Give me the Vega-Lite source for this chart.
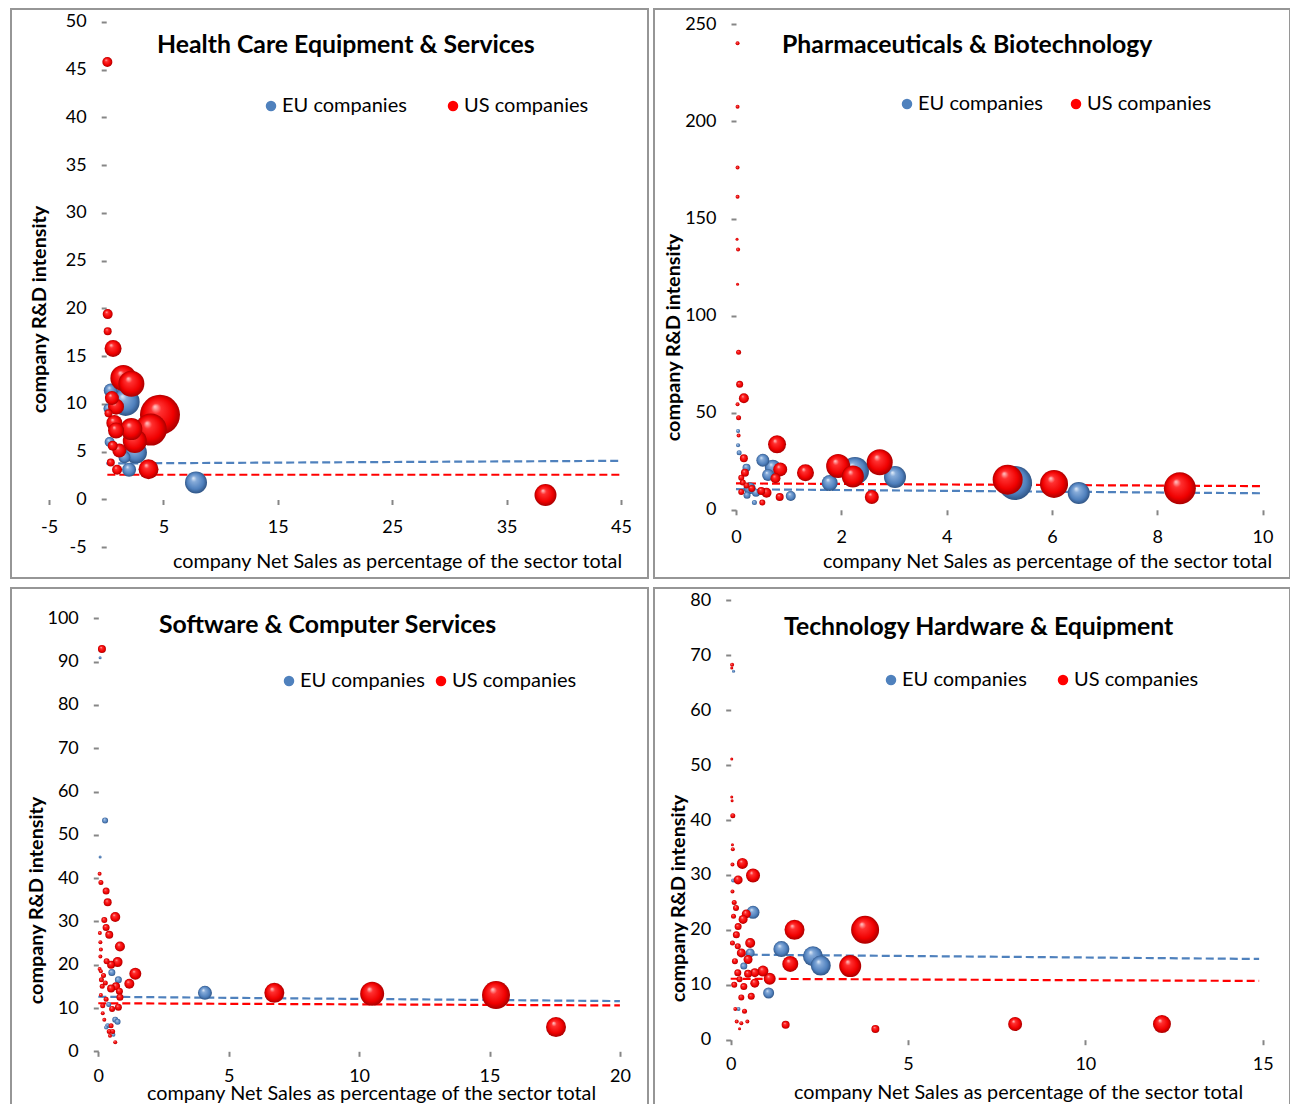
{
  "$schema": "https://vega.github.io/schema/vega-lite/v6.json",
  "padding": {"left": 10, "top": 8, "right": 3, "bottom": 0},
  "background": "white",
  "datasets": {
    "hc": [
      {"g":"EU","x":1.7,"y":10.2,"rd":784},{"g":"EU","x":2.6,"y":4.9,"rd":484},{"g":"EU","x":7.85,"y":1.76,"rd":484},{"g":"EU","x":0.4,"y":11.4,"rd":196},{"g":"EU","x":2.0,"y":3.1,"rd":196},{"g":"EU","x":1.6,"y":4.4,"rd":144},{"g":"EU","x":0.2,"y":9.5,"rd":100},{"g":"EU","x":0.3,"y":6.0,"rd":100},
      {"g":"US","x":4.7,"y":8.85,"rd":1600},{"g":"US","x":3.9,"y":7.3,"rd":1024},{"g":"US","x":1.5,"y":12.7,"rd":676},{"g":"US","x":2.2,"y":12.1,"rd":676},{"g":"US","x":2.5,"y":6.1,"rd":576},{"g":"US","x":2.2,"y":7.35,"rd":484},{"g":"US","x":38.4,"y":0.45,"rd":484},{"g":"US","x":3.7,"y":3.15,"rd":400},{"g":"US","x":0.6,"y":15.8,"rd":289},{"g":"US","x":0.86,"y":9.7,"rd":256},{"g":"US","x":0.71,"y":8.0,"rd":256},{"g":"US","x":0.86,"y":7.2,"rd":256},{"g":"US","x":0.5,"y":10.6,"rd":196},{"g":"US","x":1.15,"y":5.1,"rd":196},{"g":"US","x":0.1,"y":45.8,"rd":100},{"g":"US","x":0.13,"y":19.4,"rd":100},{"g":"US","x":0.57,"y":5.6,"rd":100},{"g":"US","x":0.95,"y":3.1,"rd":100},{"g":"US","x":0.13,"y":17.6,"rd":64},{"g":"US","x":0.4,"y":3.85,"rd":64},{"g":"US","x":0.2,"y":9.0,"rd":64}
    ],
    "hc_t": [
      {"g":"EU","x":0,"y":3.75},{"g":"EU","x":45,"y":4.03},
      {"g":"US","x":0.1,"y":2.57},{"g":"US","x":45,"y":2.57}
    ],
    "ph": [
      {"g":"EU","x":5.3,"y":13.8,"rd":1156},{"g":"EU","x":2.26,"y":20.0,"rd":784},{"g":"EU","x":3.02,"y":16.9,"rd":484},{"g":"EU","x":6.51,"y":8.6,"rd":484},{"g":"EU","x":0.70,"y":21.7,"rd":256},{"g":"EU","x":1.78,"y":13.8,"rd":256},{"g":"EU","x":0.51,"y":25.5,"rd":169},{"g":"EU","x":0.61,"y":17.9,"rd":144},{"g":"EU","x":0.26,"y":11.1,"rd":144},{"g":"EU","x":1.04,"y":7.1,"rd":100},{"g":"EU","x":0.2,"y":21.7,"rd":64},{"g":"EU","x":0.38,"y":8.8,"rd":64},{"g":"EU","x":0.21,"y":7.5,"rd":49},{"g":"EU","x":0.06,"y":29.4,"rd":25},{"g":"EU","x":0.35,"y":3.7,"rd":25},{"g":"EU","x":0.04,"y":40.6,"rd":16},{"g":"EU","x":0.04,"y":33.2,"rd":16},
      {"g":"US","x":8.43,"y":11.1,"rd":1024},{"g":"US","x":5.16,"y":15.5,"rd":900},{"g":"US","x":6.04,"y":13.3,"rd":784},{"g":"US","x":2.73,"y":24.5,"rd":676},{"g":"US","x":1.94,"y":22.6,"rd":576},{"g":"US","x":2.22,"y":17.2,"rd":484},{"g":"US","x":0.78,"y":33.7,"rd":324},{"g":"US","x":1.32,"y":19.1,"rd":289},{"g":"US","x":0.84,"y":20.8,"rd":196},{"g":"US","x":2.58,"y":6.6,"rd":196},{"g":"US","x":0.15,"y":57.4,"rd":100},{"g":"US","x":0.75,"y":16.2,"rd":100},{"g":"US","x":0.58,"y":8.8,"rd":100},{"g":"US","x":0.15,"y":26.5,"rd":64},{"g":"US","x":0.17,"y":19.1,"rd":64},{"g":"US","x":0.48,"y":9.7,"rd":64},{"g":"US","x":0.83,"y":6.6,"rd":64},{"g":"US","x":0.07,"y":64.6,"rd":49},{"g":"US","x":0.3,"y":11.0,"rd":49},{"g":"US","x":0.1,"y":16.5,"rd":36},{"g":"US","x":0.13,"y":14.0,"rd":36},{"g":"US","x":0.1,"y":9.2,"rd":36},{"g":"US","x":0.5,"y":3.7,"rd":36},{"g":"US","x":0.2,"y":12.5,"rd":36},{"g":"US","x":0.05,"y":81.1,"rd":25},{"g":"US","x":0.05,"y":47.4,"rd":25},{"g":"US","x":0.03,"y":240.2,"rd":16},{"g":"US","x":0.03,"y":207.6,"rd":16},{"g":"US","x":0.03,"y":176.2,"rd":16},{"g":"US","x":0.03,"y":161.2,"rd":16},{"g":"US","x":0.04,"y":134.0,"rd":16},{"g":"US","x":0.03,"y":54.3,"rd":16},{"g":"US","x":0.05,"y":38.2,"rd":16},{"g":"US","x":0.02,"y":139.3,"rd":9},{"g":"US","x":0.03,"y":116.1,"rd":9}
    ],
    "ph_t": [
      {"g":"EU","x":0,"y":10.6},{"g":"EU","x":10,"y":8.5},
      {"g":"US","x":0,"y":13.6},{"g":"US","x":10,"y":12.2}
    ],
    "sw": [
      {"g":"EU","x":4.09,"y":13.5,"rd":196},{"g":"EU","x":0.52,"y":18.2,"rd":49},{"g":"EU","x":0.77,"y":16.5,"rd":49},{"g":"EU","x":0.26,"y":53.3,"rd":36},{"g":"EU","x":0.65,"y":7.3,"rd":36},{"g":"EU","x":0.74,"y":6.8,"rd":36},{"g":"EU","x":0.4,"y":10.8,"rd":25},{"g":"EU","x":0.36,"y":5.9,"rd":25},{"g":"EU","x":0.3,"y":5.5,"rd":16},{"g":"EU","x":0.58,"y":3.8,"rd":16},{"g":"EU","x":0.07,"y":90.9,"rd":9},{"g":"EU","x":0.07,"y":44.9,"rd":9},
      {"g":"US","x":15.25,"y":13.0,"rd":784},{"g":"US","x":10.5,"y":13.3,"rd":576},{"g":"US","x":6.75,"y":13.5,"rd":400},{"g":"US","x":17.55,"y":5.6,"rd":400},{"g":"US","x":1.42,"y":17.9,"rd":144},{"g":"US","x":0.65,"y":31.0,"rd":100},{"g":"US","x":0.83,"y":24.2,"rd":100},{"g":"US","x":0.74,"y":20.6,"rd":100},{"g":"US","x":1.19,"y":15.6,"rd":100},{"g":"US","x":0.14,"y":92.9,"rd":64},{"g":"US","x":0.36,"y":34.4,"rd":64},{"g":"US","x":0.42,"y":26.9,"rd":64},{"g":"US","x":0.49,"y":20.0,"rd":64},{"g":"US","x":0.68,"y":15.0,"rd":64},{"g":"US","x":0.49,"y":14.5,"rd":64},{"g":"US","x":0.3,"y":37.0,"rd":49},{"g":"US","x":0.3,"y":28.6,"rd":49},{"g":"US","x":0.81,"y":13.9,"rd":49},{"g":"US","x":0.83,"y":12.5,"rd":49},{"g":"US","x":0.77,"y":10.2,"rd":49},{"g":"US","x":0.23,"y":30.3,"rd":36},{"g":"US","x":0.32,"y":20.8,"rd":36},{"g":"US","x":0.53,"y":9.8,"rd":36},{"g":"US","x":0.1,"y":39.0,"rd":25},{"g":"US","x":0.2,"y":17.5,"rd":25},{"g":"US","x":0.12,"y":16.5,"rd":25},{"g":"US","x":0.27,"y":15.8,"rd":25},{"g":"US","x":0.15,"y":15.0,"rd":25},{"g":"US","x":0.17,"y":10.5,"rd":25},{"g":"US","x":0.49,"y":5.9,"rd":25},{"g":"US","x":0.42,"y":4.6,"rd":25},{"g":"US","x":0.55,"y":4.6,"rd":25},{"g":"US","x":0.3,"y":12.0,"rd":25},{"g":"US","x":0.05,"y":41.0,"rd":16},{"g":"US","x":0.06,"y":27.3,"rd":16},{"g":"US","x":0.08,"y":25.2,"rd":16},{"g":"US","x":0.1,"y":23.5,"rd":16},{"g":"US","x":0.08,"y":21.9,"rd":16},{"g":"US","x":0.17,"y":8.8,"rd":16},{"g":"US","x":0.23,"y":7.3,"rd":16},{"g":"US","x":0.45,"y":3.6,"rd":16},{"g":"US","x":0.65,"y":2.1,"rd":16},{"g":"US","x":0.05,"y":19.0,"rd":16},{"g":"US","x":0.1,"y":18.5,"rd":16},{"g":"US","x":0.1,"y":13.0,"rd":16}
    ],
    "sw_t": [
      {"g":"EU","x":0,"y":12.6},{"g":"EU","x":20,"y":11.6},
      {"g":"US","x":0,"y":11.1},{"g":"US","x":20,"y":10.6}
    ],
    "th": [
      {"g":"EU","x":2.32,"y":15.2,"rd":400},{"g":"EU","x":2.54,"y":13.5,"rd":400},{"g":"EU","x":1.43,"y":16.5,"rd":256},{"g":"EU","x":0.63,"y":23.2,"rd":169},{"g":"EU","x":1.07,"y":8.5,"rd":121},{"g":"EU","x":0.55,"y":15.8,"rd":81},{"g":"EU","x":0.37,"y":13.4,"rd":49},{"g":"EU","x":0.07,"y":29.0,"rd":16},{"g":"EU","x":0.22,"y":5.6,"rd":16},{"g":"EU","x":0.08,"y":67.1,"rd":9},
      {"g":"US","x":3.79,"y":20.0,"rd":784},{"g":"US","x":3.37,"y":13.4,"rd":484},{"g":"US","x":1.8,"y":20.0,"rd":400},{"g":"US","x":12.16,"y":2.85,"rd":324},{"g":"US","x":1.68,"y":13.8,"rd":256},{"g":"US","x":0.63,"y":29.9,"rd":196},{"g":"US","x":8.02,"y":2.85,"rd":196},{"g":"US","x":1.1,"y":11.1,"rd":144},{"g":"US","x":0.33,"y":32.1,"rd":121},{"g":"US","x":0.91,"y":12.5,"rd":121},{"g":"US","x":0.55,"y":17.6,"rd":100},{"g":"US","x":0.21,"y":29.1,"rd":81},{"g":"US","x":0.44,"y":22.9,"rd":81},{"g":"US","x":0.35,"y":21.9,"rd":81},{"g":"US","x":0.3,"y":15.8,"rd":81},{"g":"US","x":0.49,"y":14.6,"rd":81},{"g":"US","x":0.68,"y":12.2,"rd":81},{"g":"US","x":0.68,"y":10.3,"rd":81},{"g":"US","x":0.49,"y":12.0,"rd":64},{"g":"US","x":1.55,"y":2.7,"rd":64},{"g":"US","x":4.08,"y":1.95,"rd":64},{"g":"US","x":0.21,"y":20.6,"rd":49},{"g":"US","x":0.16,"y":19.1,"rd":49},{"g":"US","x":0.2,"y":12.2,"rd":49},{"g":"US","x":0.37,"y":9.7,"rd":49},{"g":"US","x":0.58,"y":7.9,"rd":49},{"g":"US","x":0.3,"y":7.7,"rd":36},{"g":"US","x":0.12,"y":14.3,"rd":36},{"g":"US","x":0.15,"y":24.0,"rd":36},{"g":"US","x":0.2,"y":17.0,"rd":36},{"g":"US","x":0.1,"y":10.0,"rd":36},{"g":"US","x":0.25,"y":11.0,"rd":36},{"g":"US","x":0.06,"y":40.8,"rd":25},{"g":"US","x":0.08,"y":22.5,"rd":25},{"g":"US","x":0.05,"y":17.6,"rd":25},{"g":"US","x":0.39,"y":5.2,"rd":25},{"g":"US","x":0.1,"y":25.0,"rd":25},{"g":"US","x":0.04,"y":68.3,"rd":16},{"g":"US","x":0.06,"y":34.7,"rd":16},{"g":"US","x":0.05,"y":31.9,"rd":16},{"g":"US","x":0.05,"y":27.0,"rd":16},{"g":"US","x":0.13,"y":5.6,"rd":16},{"g":"US","x":0.17,"y":3.3,"rd":16},{"g":"US","x":0.3,"y":3.0,"rd":16},{"g":"US","x":0.47,"y":3.3,"rd":16},{"g":"US","x":0.03,"y":67.7,"rd":9},{"g":"US","x":0.03,"y":51.1,"rd":9},{"g":"US","x":0.03,"y":44.2,"rd":9},{"g":"US","x":0.04,"y":43.5,"rd":9},{"g":"US","x":0.05,"y":35.5,"rd":9},{"g":"US","x":0.25,"y":2.0,"rd":9}
    ],
    "th_t": [
      {"g":"EU","x":0.2,"y":15.5},{"g":"EU","x":14.9,"y":14.7},
      {"g":"US","x":0,"y":11.1},{"g":"US","x":14.9,"y":10.7}
    ]
  },
  "spacing": 8,
  "resolve": {"scale": {"x":"independent","y":"independent","size":"independent","fill":"independent"}, "axis": {"x":"independent","y":"independent"}, "legend": {"fill":"independent"}},
  "vconcat": [
    {
      "spacing": 4,
      "resolve": {"scale": {"x":"independent","y":"independent","size":"independent","fill":"independent"}, "axis": {"x":"independent","y":"independent"}, "legend": {"fill":"independent"}},
      "hconcat": [
        {
          "width": 637, "height": 569,
          "title": {"text": "Health Care Equipment & Services", "dx": 146, "offset": -49},
          "encoding": {
            "x": {"field": "x", "type": "quantitative", "scale": {"domain": [-8.322, 47.36], "nice": false, "zero": false},
              "axis": {"values": [-5,5,15,25,35,45], "offset": -78.5, "labelPadding": 14, "title": "company Net Sales as percentage of the sector total", "titleX": 386, "titleY": 61.5}},
            "y": {"field": "y", "type": "quantitative", "scale": {"domain": [-8.246, 51.361], "nice": false, "zero": false},
              "axis": {"values": [-5,0,5,10,15,20,25,30,35,40,45,50], "offset": -95.2, "title": "company R&D intensity", "titleX": -67, "titleY": 300}}
          },
          "layer": [
            {"data": {"values": [{}]}, "mark": {"type": "rule", "color": "#868686", "strokeWidth": 2}, "encoding": {"x": {"datum": -5}, "x2": {"datum": 45}, "y": {"datum": 0}}},
            {"data": {"values": [{}]}, "mark": {"type": "rule", "color": "#868686", "strokeWidth": 2}, "encoding": {"x": {"datum": 0}, "y": {"datum": -5}, "y2": {"datum": 50}}},
            {"data": {"name": "hc_t"}, "transform": [{"filter": "datum.g === 'EU'"}], "mark": {"type": "line", "color": "#4F81BD", "strokeDash": [8,4], "strokeWidth": 2.2}, "encoding": {}},
            {"data": {"name": "hc_t"}, "transform": [{"filter": "datum.g === 'US'"}], "mark": {"type": "line", "color": "#FF0000", "strokeDash": [8,4], "strokeWidth": 2.2}, "encoding": {}},
            {"data": {"name": "hc"}, "mark": {"type": "circle", "opacity": 0},
              "encoding": {"fill": {"field": "g", "type": "nominal", "scale": {"domain": ["EU","US"], "range": ["#4F81BD","#FF0000"]},
                "legend": {"title": null, "orient": "none", "legendX": 250, "legendY": 87, "direction": "horizontal", "symbolType": "circle", "symbolSize": 110, "symbolOpacity": 1, "symbolStrokeWidth": 0, "labelFontSize": 20, "labelOffset": 1, "columnPadding": 36, "padding": 0, "labelExpr": "datum.label + ' companies'"}}}},
            {"data": {"name": "hc"}, "transform": [{"filter": "datum.g === 'EU'"}],
              "mark": {"type": "circle", "opacity": 1, "fill": {"gradient": "radial", "x1": 0.38, "y1": 0.3, "r1": 0.02, "x2": 0.5, "y2": 0.5, "r2": 0.52, "stops": [{"offset": 0, "color": "#d9e6f6"}, {"offset": 0.22, "color": "#86abd9"}, {"offset": 0.7, "color": "#4f80bd"}, {"offset": 1, "color": "#2c4f7e"}]}},
              "encoding": {"size": {"field": "rd", "type": "quantitative", "scale": {"domain": [0,1600], "range": [0,1600]}, "legend": null}, "order": {"field": "rd", "sort": "descending"}}},
            {"data": {"name": "hc"}, "transform": [{"filter": "datum.g === 'US'"}],
              "mark": {"type": "circle", "opacity": 1, "fill": {"gradient": "radial", "x1": 0.38, "y1": 0.3, "r1": 0.02, "x2": 0.5, "y2": 0.5, "r2": 0.52, "stops": [{"offset": 0, "color": "#ffb8b8"}, {"offset": 0.22, "color": "#ff3030"}, {"offset": 0.7, "color": "#f00000"}, {"offset": 1, "color": "#a00000"}]}},
              "encoding": {"size": {"field": "rd", "type": "quantitative", "scale": {"domain": [0,1600], "range": [0,1600]}, "legend": null}, "order": {"field": "rd", "sort": "descending"}}}
          ]
        },
        {
          "width": 636, "height": 569,
          "title": {"text": "Pharmaceuticals & Biotechnology", "dx": 128, "offset": -49},
          "encoding": {
            "x": {"field": "x", "type": "quantitative", "scale": {"domain": [-1.557, 10.522], "nice": false, "zero": false},
              "axis": {"values": [0,2,4,6,8,10], "offset": -68.2, "labelPadding": 14, "title": "company Net Sales as percentage of the sector total", "titleX": 393, "titleY": 51.2}},
            "y": {"field": "y", "type": "quantitative", "scale": {"domain": [-35.12, 257.88], "nice": false, "zero": false},
              "axis": {"values": [0,50,100,150,200,250], "offset": -82, "title": "company R&D intensity", "titleX": -63, "titleY": 328}}
          },
          "layer": [
            {"data": {"values": [{}]}, "mark": {"type": "rule", "color": "#868686", "strokeWidth": 2}, "encoding": {"x": {"datum": 0}, "x2": {"datum": 10}, "y": {"datum": 0}}},
            {"data": {"values": [{}]}, "mark": {"type": "rule", "color": "#868686", "strokeWidth": 2}, "encoding": {"x": {"datum": 0}, "y": {"datum": 0}, "y2": {"datum": 250}}},
            {"data": {"name": "ph_t"}, "transform": [{"filter": "datum.g === 'EU'"}], "mark": {"type": "line", "color": "#4F81BD", "strokeDash": [8,4], "strokeWidth": 2.2}, "encoding": {}},
            {"data": {"name": "ph_t"}, "transform": [{"filter": "datum.g === 'US'"}], "mark": {"type": "line", "color": "#FF0000", "strokeDash": [8,4], "strokeWidth": 2.2}, "encoding": {}},
            {"data": {"name": "ph"}, "mark": {"type": "circle", "opacity": 0},
              "encoding": {"fill": {"field": "g", "type": "nominal", "scale": {"domain": ["EU","US"], "range": ["#4F81BD","#FF0000"]},
                "legend": {"title": null, "orient": "none", "legendX": 243, "legendY": 85, "direction": "horizontal", "symbolType": "circle", "symbolSize": 110, "symbolOpacity": 1, "symbolStrokeWidth": 0, "labelFontSize": 20, "labelOffset": 1, "columnPadding": 23, "padding": 0, "labelExpr": "datum.label + ' companies'"}}}},
            {"data": {"name": "ph"}, "transform": [{"filter": "datum.g === 'EU'"}],
              "mark": {"type": "circle", "opacity": 1, "fill": {"gradient": "radial", "x1": 0.38, "y1": 0.3, "r1": 0.02, "x2": 0.5, "y2": 0.5, "r2": 0.52, "stops": [{"offset": 0, "color": "#d9e6f6"}, {"offset": 0.22, "color": "#86abd9"}, {"offset": 0.7, "color": "#4f80bd"}, {"offset": 1, "color": "#2c4f7e"}]}},
              "encoding": {"size": {"field": "rd", "type": "quantitative", "scale": {"domain": [0,1600], "range": [0,1600]}, "legend": null}, "order": {"field": "rd", "sort": "descending"}}},
            {"data": {"name": "ph"}, "transform": [{"filter": "datum.g === 'US'"}],
              "mark": {"type": "circle", "opacity": 1, "fill": {"gradient": "radial", "x1": 0.38, "y1": 0.3, "r1": 0.02, "x2": 0.5, "y2": 0.5, "r2": 0.52, "stops": [{"offset": 0, "color": "#ffb8b8"}, {"offset": 0.22, "color": "#ff3030"}, {"offset": 0.7, "color": "#f00000"}, {"offset": 1, "color": "#a00000"}]}},
              "encoding": {"size": {"field": "rd", "type": "quantitative", "scale": {"domain": [0,1600], "range": [0,1600]}, "legend": null}, "order": {"field": "rd", "sort": "descending"}}}
          ]
        }
      ]
    },
    {
      "spacing": 4,
      "resolve": {"scale": {"x":"independent","y":"independent","size":"independent","fill":"independent"}, "axis": {"x":"independent","y":"independent"}, "legend": {"fill":"independent"}},
      "hconcat": [
        {
          "width": 637, "height": 519,
          "title": {"text": "Software & Computer Services", "dx": 148, "offset": -50},
          "encoding": {
            "x": {"field": "x", "type": "quantitative", "scale": {"domain": [-3.347, 21.077], "nice": false, "zero": false},
              "axis": {"values": [0,5,10,15,20], "offset": -55.7, "title": "company Net Sales as percentage of the sector total", "titleX": 360, "titleY": 42}},
            "y": {"field": "y", "type": "quantitative", "scale": {"domain": [-12.86, 107.0], "nice": false, "zero": false},
              "axis": {"values": [0,10,20,30,40,50,60,70,80,90,100], "offset": -87.3, "title": "company R&D intensity", "titleX": -62, "titleY": 312}}
          },
          "layer": [
            {"data": {"values": [{}]}, "mark": {"type": "rule", "color": "#868686", "strokeWidth": 2}, "encoding": {"x": {"datum": 0}, "x2": {"datum": 20}, "y": {"datum": 0}}},
            {"data": {"values": [{}]}, "mark": {"type": "rule", "color": "#868686", "strokeWidth": 2}, "encoding": {"x": {"datum": 0}, "y": {"datum": 0}, "y2": {"datum": 100}}},
            {"data": {"name": "sw_t"}, "transform": [{"filter": "datum.g === 'EU'"}], "mark": {"type": "line", "color": "#4F81BD", "strokeDash": [8,4], "strokeWidth": 2.2}, "encoding": {}},
            {"data": {"name": "sw_t"}, "transform": [{"filter": "datum.g === 'US'"}], "mark": {"type": "line", "color": "#FF0000", "strokeDash": [8,4], "strokeWidth": 2.2}, "encoding": {}},
            {"data": {"name": "sw"}, "mark": {"type": "circle", "opacity": 0},
              "encoding": {"fill": {"field": "g", "type": "nominal", "scale": {"domain": ["EU","US"], "range": ["#4F81BD","#FF0000"]},
                "legend": {"title": null, "orient": "none", "legendX": 268, "legendY": 83, "direction": "horizontal", "symbolType": "circle", "symbolSize": 110, "symbolOpacity": 1, "symbolStrokeWidth": 0, "labelFontSize": 20, "labelOffset": 1, "columnPadding": 6, "padding": 0, "labelExpr": "datum.label + ' companies'"}}}},
            {"data": {"name": "sw"}, "transform": [{"filter": "datum.g === 'EU'"}],
              "mark": {"type": "circle", "opacity": 1, "fill": {"gradient": "radial", "x1": 0.38, "y1": 0.3, "r1": 0.02, "x2": 0.5, "y2": 0.5, "r2": 0.52, "stops": [{"offset": 0, "color": "#d9e6f6"}, {"offset": 0.22, "color": "#86abd9"}, {"offset": 0.7, "color": "#4f80bd"}, {"offset": 1, "color": "#2c4f7e"}]}},
              "encoding": {"size": {"field": "rd", "type": "quantitative", "scale": {"domain": [0,1600], "range": [0,1600]}, "legend": null}, "order": {"field": "rd", "sort": "descending"}}},
            {"data": {"name": "sw"}, "transform": [{"filter": "datum.g === 'US'"}],
              "mark": {"type": "circle", "opacity": 1, "fill": {"gradient": "radial", "x1": 0.38, "y1": 0.3, "r1": 0.02, "x2": 0.5, "y2": 0.5, "r2": 0.52, "stops": [{"offset": 0, "color": "#ffb8b8"}, {"offset": 0.22, "color": "#ff3030"}, {"offset": 0.7, "color": "#f00000"}, {"offset": 1, "color": "#a00000"}]}},
              "encoding": {"size": {"field": "rd", "type": "quantitative", "scale": {"domain": [0,1600], "range": [0,1600]}, "legend": null}, "order": {"field": "rd", "sort": "descending"}}}
          ]
        },
        {
          "width": 636, "height": 519,
          "title": {"text": "Technology Hardware & Equipment", "dx": 130, "offset": -52},
          "encoding": {
            "x": {"field": "x", "type": "quantitative", "scale": {"domain": [-2.162, 15.77], "nice": false, "zero": false},
              "axis": {"values": [0,5,10,15], "offset": -67.3, "title": "company Net Sales as percentage of the sector total", "titleX": 364, "titleY": 53}},
            "y": {"field": "y", "type": "quantitative", "scale": {"domain": [-12.26, 82.26], "nice": false, "zero": false},
              "axis": {"values": [0,10,20,30,40,50,60,70,80], "offset": -76.7, "title": "company R&D intensity", "titleX": -52, "titleY": 310}}
          },
          "layer": [
            {"data": {"values": [{}]}, "mark": {"type": "rule", "color": "#868686", "strokeWidth": 2}, "encoding": {"x": {"datum": 0}, "x2": {"datum": 15}, "y": {"datum": 0}}},
            {"data": {"values": [{}]}, "mark": {"type": "rule", "color": "#868686", "strokeWidth": 2}, "encoding": {"x": {"datum": 0}, "y": {"datum": 0}, "y2": {"datum": 80}}},
            {"data": {"name": "th_t"}, "transform": [{"filter": "datum.g === 'EU'"}], "mark": {"type": "line", "color": "#4F81BD", "strokeDash": [8,4], "strokeWidth": 2.2}, "encoding": {}},
            {"data": {"name": "th_t"}, "transform": [{"filter": "datum.g === 'US'"}], "mark": {"type": "line", "color": "#FF0000", "strokeDash": [8,4], "strokeWidth": 2.2}, "encoding": {}},
            {"data": {"name": "th"}, "mark": {"type": "circle", "opacity": 0},
              "encoding": {"fill": {"field": "g", "type": "nominal", "scale": {"domain": ["EU","US"], "range": ["#4F81BD","#FF0000"]},
                "legend": {"title": null, "orient": "none", "legendX": 227, "legendY": 82, "direction": "horizontal", "symbolType": "circle", "symbolSize": 110, "symbolOpacity": 1, "symbolStrokeWidth": 0, "labelFontSize": 20, "labelOffset": 1, "columnPadding": 26, "padding": 0, "labelExpr": "datum.label + ' companies'"}}}},
            {"data": {"name": "th"}, "transform": [{"filter": "datum.g === 'EU'"}],
              "mark": {"type": "circle", "opacity": 1, "fill": {"gradient": "radial", "x1": 0.38, "y1": 0.3, "r1": 0.02, "x2": 0.5, "y2": 0.5, "r2": 0.52, "stops": [{"offset": 0, "color": "#d9e6f6"}, {"offset": 0.22, "color": "#86abd9"}, {"offset": 0.7, "color": "#4f80bd"}, {"offset": 1, "color": "#2c4f7e"}]}},
              "encoding": {"size": {"field": "rd", "type": "quantitative", "scale": {"domain": [0,1600], "range": [0,1600]}, "legend": null}, "order": {"field": "rd", "sort": "descending"}}},
            {"data": {"name": "th"}, "transform": [{"filter": "datum.g === 'US'"}],
              "mark": {"type": "circle", "opacity": 1, "fill": {"gradient": "radial", "x1": 0.38, "y1": 0.3, "r1": 0.02, "x2": 0.5, "y2": 0.5, "r2": 0.52, "stops": [{"offset": 0, "color": "#ffb8b8"}, {"offset": 0.22, "color": "#ff3030"}, {"offset": 0.7, "color": "#f00000"}, {"offset": 1, "color": "#a00000"}]}},
              "encoding": {"size": {"field": "rd", "type": "quantitative", "scale": {"domain": [0,1600], "range": [0,1600]}, "legend": null}, "order": {"field": "rd", "sort": "descending"}}}
          ]
        }
      ]
    }
  ],
  "config": {
    "view": {"stroke": "#969696", "strokeWidth": 2},
    "font": "Lato",
    "axis": {"domain": false, "grid": false, "tickColor": "#868686", "tickWidth": 2, "tickSize": 5, "labelFont": "Lato", "labelFontSize": 18, "labelColor": "#000000", "labelFlush": false, "labelOverlap": false, "labelBound": false, "labelExpr": "'' + datum.value", "titleFont": "Lato", "titleFontSize": 19.8, "titleColor": "#000000", "titleAlign": "center", "titleBaseline": "middle"},
    "axisX": {"labelPadding": 11, "titleFontWeight": "normal"},
    "axisY": {"labelPadding": 15, "titleFontWeight": "bold"},
    "title": {"font": "Lato", "fontSize": 24.8, "fontWeight": "bold", "color": "#000000", "anchor": "start", "frame": "group"},
    "legend": {"labelFont": "Lato", "labelColor": "#000000"}
  }
}
